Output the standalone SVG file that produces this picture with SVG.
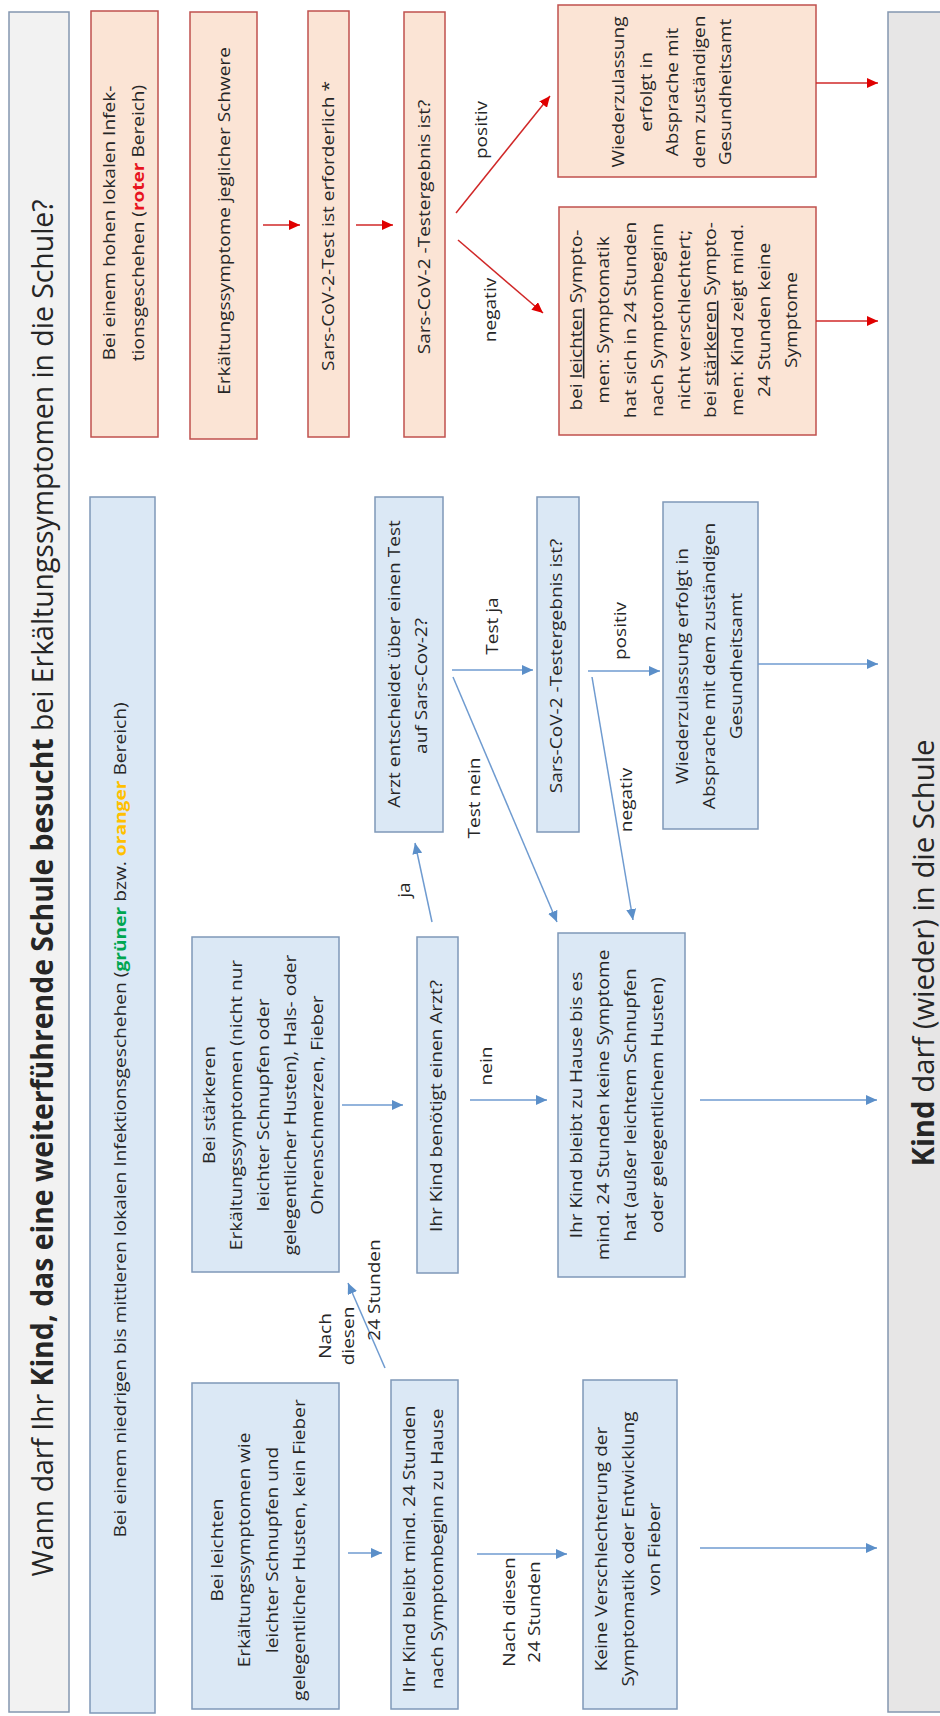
<svg xmlns="http://www.w3.org/2000/svg" width="940" height="1716" viewBox="0 0 940 1716">
<defs>
<style>
.t{font-family:"Open Sans","Liberation Sans",sans-serif;font-size:15.5px;fill:#262626;text-anchor:middle}
.h{font-family:"Open Sans","Liberation Sans",sans-serif;font-size:30px;fill:#262626;text-anchor:middle}
.b{font-weight:bold}
.rb{fill:#fbe4d5;stroke:#c0504d;stroke-width:1.5}
.bb{fill:#dbe8f5;stroke:#7f98b8;stroke-width:1.5}
.ca{stroke:#6f9bd0;stroke-width:1.5;fill:none;marker-end:url(#ab)}
.cr{stroke:#d02828;stroke-width:1.5;fill:none;marker-end:url(#ar)}
</style>
<marker id="ab" markerUnits="userSpaceOnUse" markerWidth="12" markerHeight="10" refX="11" refY="5" orient="auto"><path d="M0,0 L11,5 L0,10 z" fill="#5b8fc9"/></marker>
<marker id="ar" markerUnits="userSpaceOnUse" markerWidth="12" markerHeight="10" refX="11" refY="5" orient="auto"><path d="M0,0 L11,5 L0,10 z" fill="#e00000"/></marker>
</defs>
<rect width="940" height="1716" fill="#ffffff"/>

<g id="title">
<rect x="9" y="12" width="60" height="1700" fill="#f2f2f2" stroke="#8497b0" stroke-width="1.5"/>
<text class="h" transform="translate(0,888) rotate(-90)" x="0" y="53" textLength="1377" lengthAdjust="spacingAndGlyphs">Wann darf Ihr <tspan class="b">Kind, das eine weiterführende Schule besucht</tspan> bei Erkältungssymptomen in die Schule?</text>
</g>

<g id="result">
<rect x="888" y="12" width="60" height="1700" fill="#e7e6e6" stroke="#8497b0" stroke-width="1.5"/>
<text class="h" transform="translate(0,953) rotate(-90)" x="0" y="934" textLength="427" lengthAdjust="spacingAndGlyphs"><tspan class="b">Kind</tspan> darf (wieder) in die Schule</text>
</g>

<g id="red-header">
<rect class="rb" x="91" y="11" width="67" height="426"/>
<text class="t" transform="translate(0,223) rotate(-90) scale(1.23,1)"><tspan x="0" y="115">Bei einem hohen  lokalen Infek-</tspan><tspan x="0" y="144">tionsgeschehen (<tspan class="b" fill="#e8141e">roter</tspan> Bereich)</tspan></text>
</g>
<g id="red-symptoms">
<rect class="rb" x="190" y="12" width="67" height="427"/>
<text class="t" transform="translate(0,221) rotate(-90) scale(1.23,1)" x="0" y="230">Erkältungssymptome jeglicher Schwere</text>
</g>
<g id="red-test">
<rect class="rb" x="308" y="11" width="41" height="426"/>
<text class="t" transform="translate(0,226) rotate(-90) scale(1.23,1)" x="0" y="334">Sars-CoV-2-Test ist erforderlich *</text>
</g>
<g id="red-result">
<rect class="rb" x="404" y="12" width="41" height="425"/>
<text class="t" transform="translate(0,227) rotate(-90) scale(1.23,1)" x="0" y="430">Sars-CoV-2 -Testergebnis ist?</text>
</g>
<g id="red-positive">
<rect class="rb" x="558" y="5" width="258" height="172"/>
<text class="t" transform="translate(0,92) rotate(-90) scale(1.23,1)"><tspan x="0" y="624">Wiederzulassung</tspan><tspan x="0" y="652">erfolgt in</tspan><tspan x="0" y="678">Absprache mit</tspan><tspan x="0" y="705">dem zuständigen</tspan><tspan x="0" y="731">Gesundheitsamt</tspan></text>
</g>
<g id="red-negative">
<rect class="rb" x="559" y="207" width="257" height="228"/>
<text class="t" transform="translate(0,320) rotate(-90) scale(1.23,1)"><tspan x="0" y="582">bei <tspan text-decoration="underline">leichten</tspan> Sympto-</tspan><tspan x="0" y="609">men: Symptomatik</tspan><tspan x="0" y="636">hat sich in 24 Stunden</tspan><tspan x="0" y="663">nach Symptombeginn</tspan><tspan x="0" y="690">nicht verschlechtert;</tspan><tspan x="0" y="716">bei <tspan text-decoration="underline">stärkeren</tspan> Sympto-</tspan><tspan x="0" y="743">men: Kind zeigt mind.</tspan><tspan x="0" y="770">24 Stunden  keine</tspan><tspan x="0" y="797">Symptome</tspan></text>
</g>

<g id="blue-header">
<rect class="bb" x="90" y="497" width="65" height="1216"/>
<text class="t" transform="translate(0,1120) rotate(-90) scale(1.23,1)" x="0" y="126" textLength="679" lengthAdjust="spacingAndGlyphs">Bei einem niedrigen bis mittleren lokalen Infektionsgeschehen (<tspan class="b" fill="#00a651">grüner</tspan> bzw. <tspan class="b" fill="#ffc000">oranger</tspan> Bereich)</text>
</g>
<g id="blue-mild">
<rect class="bb" x="192" y="1383" width="147" height="326"/>
<text class="t" transform="translate(0,1550) rotate(-90) scale(1.23,1)"><tspan x="0" y="223">Bei leichten</tspan><tspan x="0" y="250">Erkältungssymptomen wie</tspan><tspan x="0" y="278">leichter Schnupfen und</tspan><tspan x="0" y="305">gelegentlicher Husten, kein Fieber</tspan></text>
</g>
<g id="blue-stay24">
<rect class="bb" x="391" y="1380" width="67" height="329"/>
<text class="t" transform="translate(0,1549) rotate(-90) scale(1.23,1)"><tspan x="0" y="415">Ihr Kind bleibt mind. 24 Stunden</tspan><tspan x="0" y="443">nach Symptombeginn  zu Hause</tspan></text>
</g>
<g id="blue-noworse">
<rect class="bb" x="583" y="1380" width="94" height="329"/>
<text class="t" transform="translate(0,1549) rotate(-90) scale(1.23,1)"><tspan x="0" y="607">Keine Verschlechterung der</tspan><tspan x="0" y="634">Symptomatik oder Entwicklung</tspan><tspan x="0" y="660">von Fieber</tspan></text>
</g>
<g id="blue-strong">
<rect class="bb" x="192" y="937" width="147" height="335"/>
<text class="t" transform="translate(0,1105) rotate(-90) scale(1.23,1)"><tspan x="0" y="215">Bei stärkeren</tspan><tspan x="0" y="242">Erkältungssymptomen (nicht nur</tspan><tspan x="0" y="269">leichter Schnupfen oder</tspan><tspan x="0" y="296">gelegentlicher Husten), Hals- oder</tspan><tspan x="0" y="323">Ohrenschmerzen,  Fieber</tspan></text>
</g>
<g id="blue-doctor">
<rect class="bb" x="417" y="937" width="41" height="336"/>
<text class="t" transform="translate(0,1106) rotate(-90) scale(1.23,1)" x="0" y="442">Ihr Kind benötigt einen Arzt?</text>
</g>
<g id="blue-decides">
<rect class="bb" x="375" y="497" width="68" height="335"/>
<text class="t" transform="translate(0,664) rotate(-90) scale(1.23,1)" x="0" y="400">Arzt entscheidet über einen Test</text>
<text class="t" transform="translate(0,686) rotate(-90) scale(1.23,1)" x="0" y="427">auf Sars-Cov-2?</text>
</g>
<g id="blue-home">
<rect class="bb" x="558" y="933" width="127" height="344"/>
<text class="t" transform="translate(0,1105) rotate(-90) scale(1.23,1)"><tspan x="0" y="582">Ihr Kind bleibt zu Hause bis es</tspan><tspan x="0" y="609">mind. 24 Stunden keine Symptome</tspan><tspan x="0" y="636">hat (außer leichtem Schnupfen</tspan><tspan x="0" y="663">oder gelegentlichem Husten)</tspan></text>
</g>
<g id="blue-result">
<rect class="bb" x="537" y="497" width="42" height="335"/>
<text class="t" transform="translate(0,666) rotate(-90) scale(1.23,1)" x="0" y="562">Sars-CoV-2 -Testergebnis ist?</text>
</g>
<g id="blue-positive">
<rect class="bb" x="663" y="502" width="95" height="327"/>
<text class="t" transform="translate(0,666) rotate(-90) scale(1.23,1)"><tspan x="0" y="688">Wiederzulassung erfolgt in</tspan><tspan x="0" y="715">Absprache mit dem zuständigen</tspan><tspan x="0" y="742">Gesundheitsamt</tspan></text>
</g>

<g id="connectors">
<line class="cr" x1="263" y1="225" x2="300" y2="225"/>
<line class="cr" x1="356" y1="225" x2="393" y2="225"/>
<line class="cr" x1="456" y1="213" x2="550" y2="96"/>
<line class="cr" x1="458" y1="240" x2="543" y2="313"/>
<line class="cr" x1="816" y1="83" x2="878" y2="83"/>
<line class="cr" x1="816" y1="321" x2="878" y2="321"/>
<line class="ca" x1="348" y1="1553" x2="382" y2="1553"/>
<line class="ca" x1="477" y1="1554" x2="567" y2="1554"/>
<line class="ca" x1="700" y1="1548" x2="877" y2="1548"/>
<line class="ca" x1="385" y1="1368" x2="348" y2="1283"/>
<line class="ca" x1="342" y1="1105" x2="403" y2="1105"/>
<line class="ca" x1="432" y1="922" x2="415" y2="843"/>
<line class="ca" x1="470" y1="1100" x2="547" y2="1100"/>
<line class="ca" x1="700" y1="1100" x2="877" y2="1100"/>
<line class="ca" x1="452" y1="670" x2="533" y2="670"/>
<line class="ca" x1="453" y1="677" x2="557" y2="922"/>
<line class="ca" x1="588" y1="671" x2="660" y2="671"/>
<line class="ca" x1="592" y1="677" x2="633" y2="920"/>
<line class="ca" x1="758" y1="664" x2="878" y2="664"/>
<text class="t" transform="translate(0,130) rotate(-90) scale(1.23,1)" x="0" y="487">positiv</text>
<text class="t" transform="translate(0,310) rotate(-90) scale(1.23,1)" x="0" y="496">negativ</text>
<text class="t" transform="translate(0,890) rotate(-90) scale(1.23,1)" x="0" y="410">ja</text>
<text class="t" transform="translate(0,1066) rotate(-90) scale(1.23,1)" x="0" y="492">nein</text>
<text class="t" transform="translate(0,626) rotate(-90) scale(1.23,1)" x="0" y="498">Test ja</text>
<text class="t" transform="translate(0,798) rotate(-90) scale(1.23,1)" x="0" y="480">Test nein</text>
<text class="t" transform="translate(0,631) rotate(-90) scale(1.23,1)" x="0" y="626">positiv</text>
<text class="t" transform="translate(0,800) rotate(-90) scale(1.23,1)" x="0" y="632">negativ</text>
<text class="t" transform="translate(0,1336) rotate(-90) scale(1.23,1)" x="0" y="331">Nach</text>
<text class="t" transform="translate(0,1336) rotate(-90) scale(1.23,1)" x="0" y="354">diesen</text>
<text class="t" transform="translate(0,1290) rotate(-90) scale(1.23,1)" x="0" y="380">24 Stunden</text>
<text class="t" transform="translate(0,1612) rotate(-90) scale(1.23,1)"><tspan x="0" y="515">Nach diesen</tspan><tspan x="0" y="540">24 Stunden</tspan></text>
</g>
</svg>
